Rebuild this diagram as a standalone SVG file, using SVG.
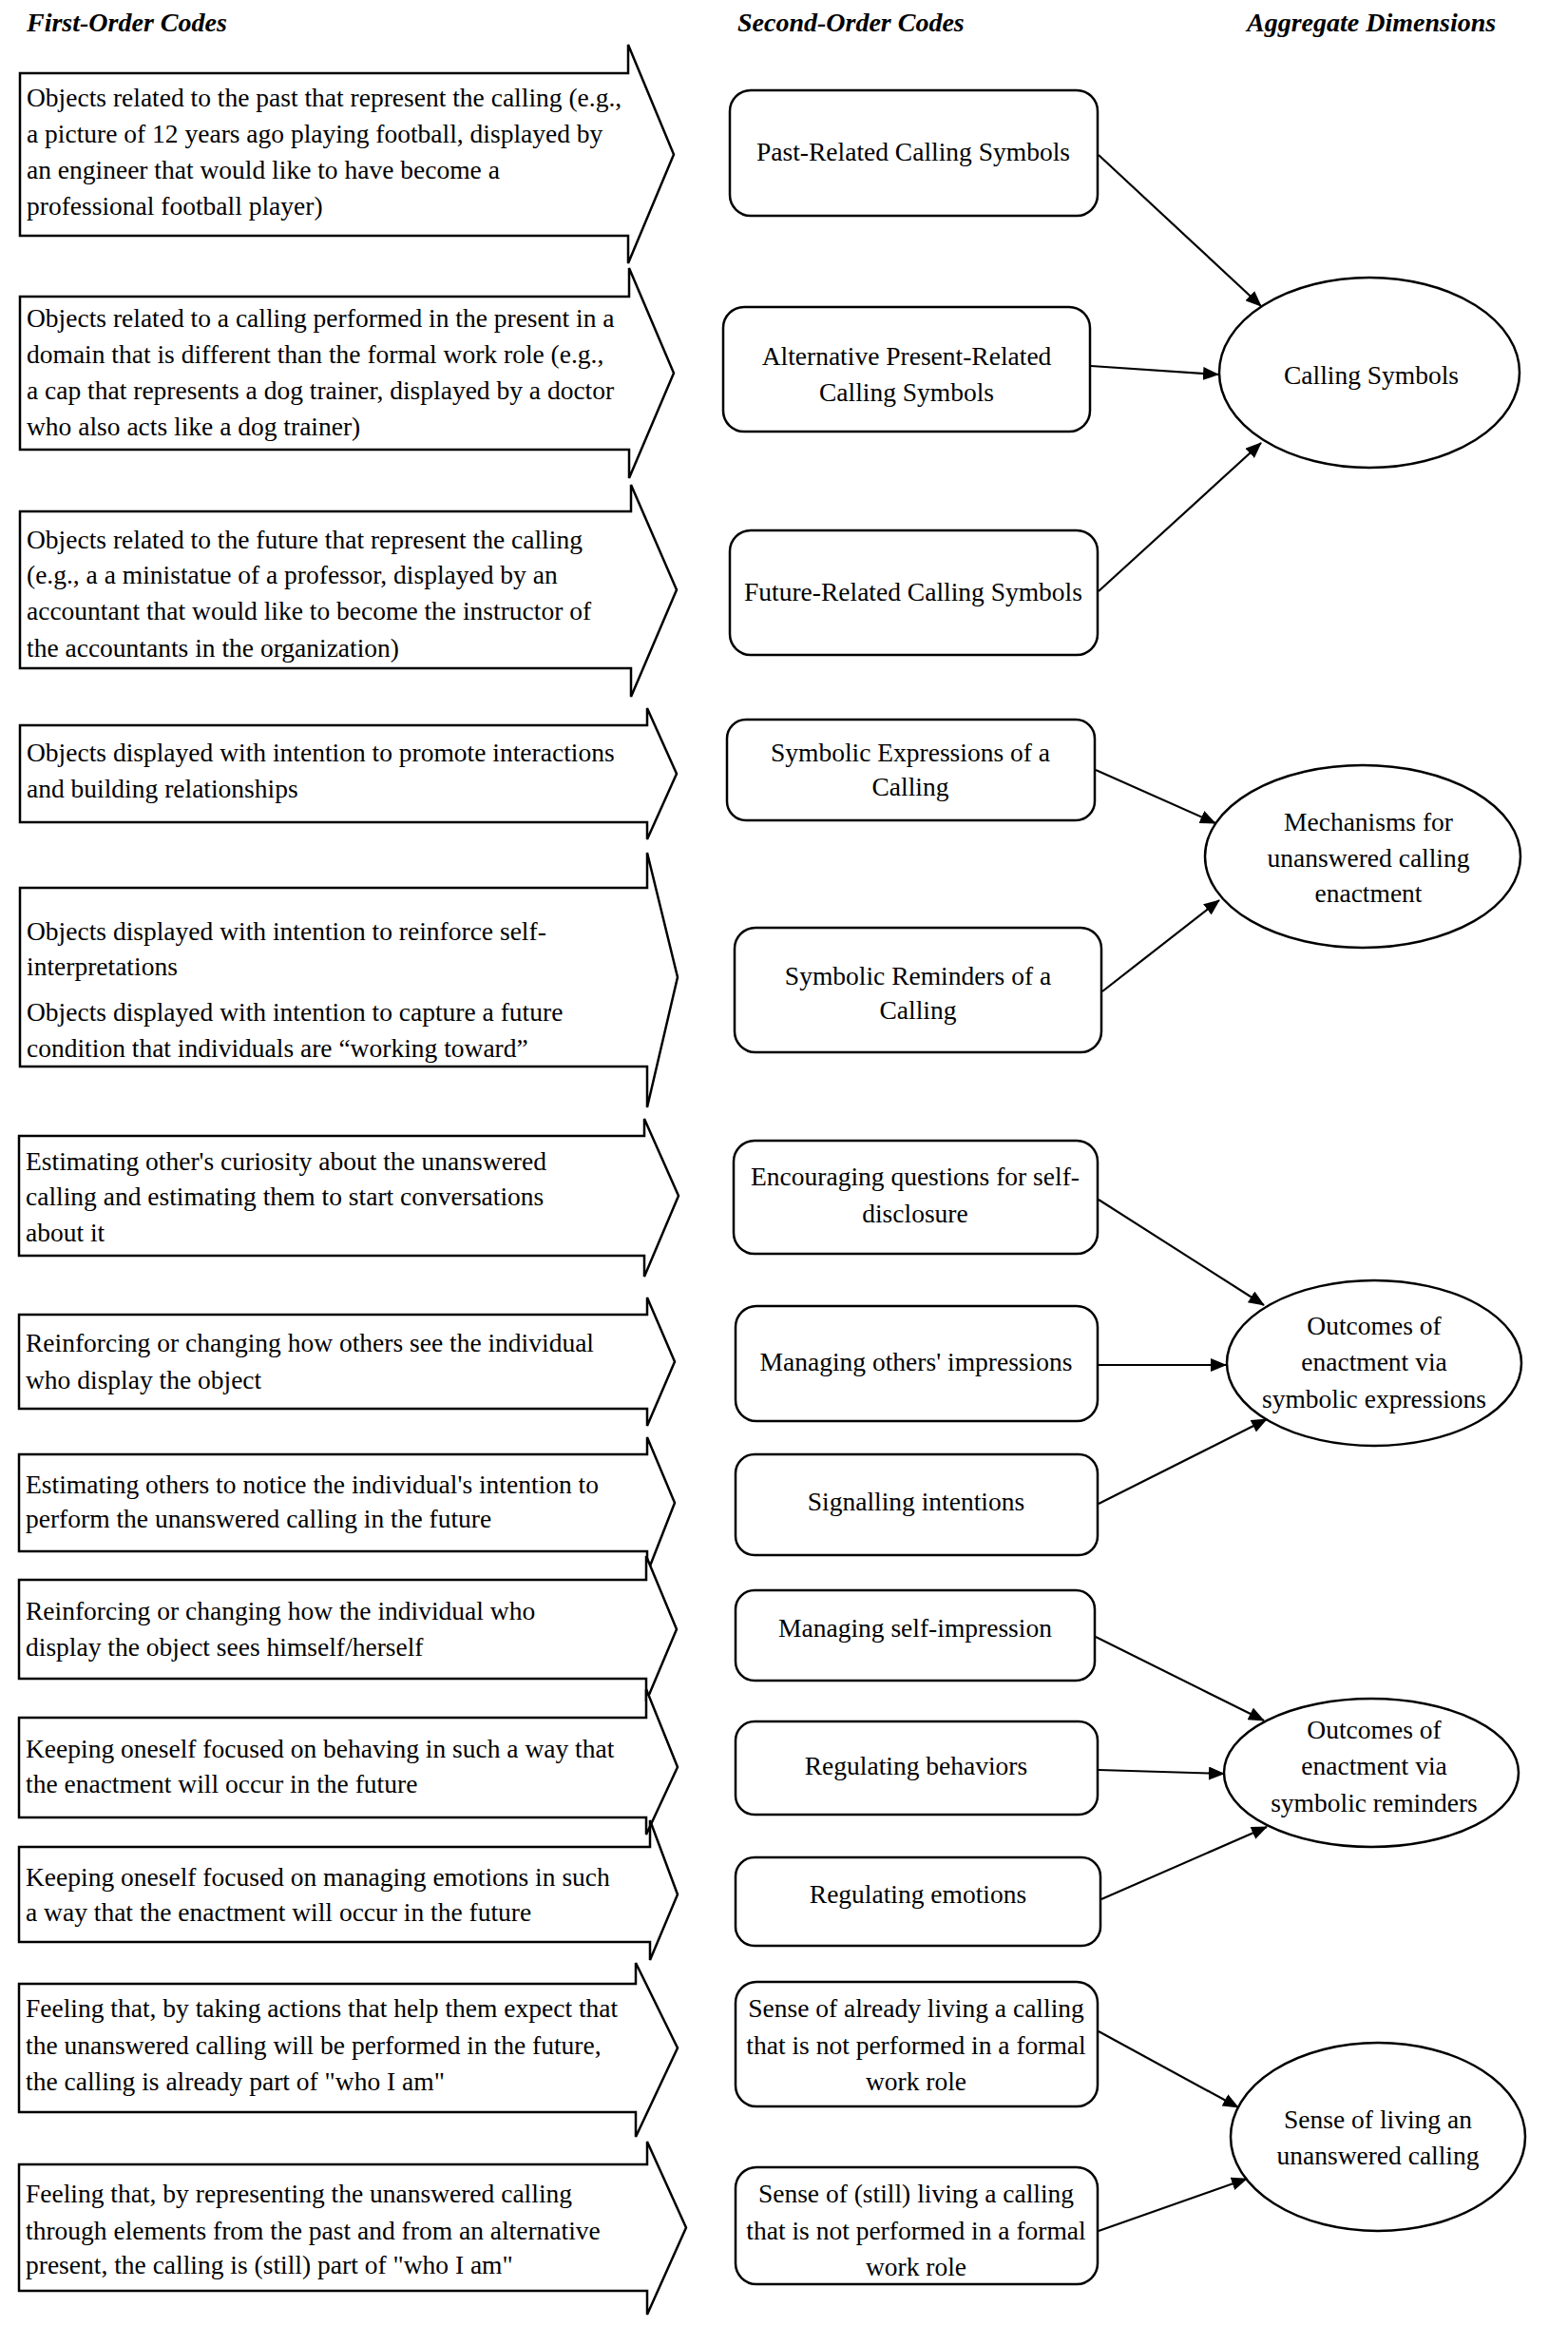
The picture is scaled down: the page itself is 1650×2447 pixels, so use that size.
<svg xmlns="http://www.w3.org/2000/svg" width="1650" height="2447" viewBox="0 0 1650 2447">
<defs>
<marker id="ah" markerUnits="userSpaceOnUse" markerWidth="18" markerHeight="14" refX="16" refY="7" orient="auto">
<path d="M0,0 L17,7 L0,14 Z" fill="#000"/>
</marker>
<style>
.t{font-family:"Liberation Serif","Times New Roman",serif;font-size:27.5px;fill:#000}
.h{font-family:"Liberation Serif","Times New Roman",serif;font-size:28px;font-weight:bold;font-style:italic;fill:#000}
.c{text-anchor:middle}
.ar{fill:#fff;stroke:#000;stroke-width:2.5;stroke-linejoin:miter}
.bx{fill:#fff;stroke:#000;stroke-width:2.5}
.el{fill:#fff;stroke:#000;stroke-width:2.5}
.cn{fill:none;stroke:#000;stroke-width:2.2;marker-end:url(#ah)}
</style>
</defs>
<rect width="1650" height="2447" fill="#fff"/>
<g id="headers">
<text class="h" x="28" y="33">First-Order Codes</text>
<text class="h" x="776" y="33">Second-Order Codes</text>
<text class="h" x="1312" y="33">Aggregate Dimensions</text>
</g>
<g id="first-order">
<g id="f1"><path class="ar" d="M21,77 H661 V47 L709,162.5 L661,277 V248 H21 Z"/>
<text class="t" x="28" y="112">Objects related to the past that represent the calling (e.g.,</text>
<text class="t" x="28" y="150">a picture of 12 years ago playing football, displayed by</text>
<text class="t" x="28" y="188">an engineer that would like to have become a</text>
<text class="t" x="28" y="226">professional football player)</text></g>
<g id="f2"><path class="ar" d="M21,312 H662 V282 L709,392.5 L662,503 V473 H21 Z"/>
<text class="t" x="28" y="344">Objects related to a calling performed in the present in a</text>
<text class="t" x="28" y="382">domain that is different than the formal work role (e.g.,</text>
<text class="t" x="28" y="420">a cap that represents a dog trainer, displayed by a doctor</text>
<text class="t" x="28" y="458">who also acts like a dog trainer)</text></g>
<g id="f3"><path class="ar" d="M21,538 H664 V510 L712,620.5 L664,733 V703 H21 Z"/>
<text class="t" x="28" y="577">Objects related to the future that represent the calling</text>
<text class="t" x="28" y="614">(e.g., a a ministatue of a professor, displayed by an</text>
<text class="t" x="28" y="652">accountant that would like to become the instructor of</text>
<text class="t" x="28" y="691">the accountants in the organization)</text></g>
<g id="f4"><path class="ar" d="M21,763 H681 V745 L712,814 L681,883 V865 H21 Z"/>
<text class="t" x="28" y="801">Objects displayed with intention to promote interactions</text>
<text class="t" x="28" y="839">and building relationships</text></g>
<g id="f5"><path class="ar" d="M21,934 H681 V897 L713,1028 L681,1165 V1122 H21 Z"/>
<text class="t" x="28" y="989">Objects displayed with intention to reinforce self-</text>
<text class="t" x="28" y="1026">interpretations</text>
<text class="t" x="28" y="1074">Objects displayed with intention to capture a future</text>
<text class="t" x="28" y="1112">condition that individuals are “working toward”</text></g>
<g id="f6"><path class="ar" d="M20,1195 H678 V1177 L714,1258 L678,1343 V1321 H20 Z"/>
<text class="t" x="27" y="1231">Estimating other's curiosity about the unanswered</text>
<text class="t" x="27" y="1268">calling and estimating them to start conversations</text>
<text class="t" x="27" y="1306">about it</text></g>
<g id="f7"><path class="ar" d="M20,1383 H681 V1365 L710,1432.5 L681,1500 V1482 H20 Z"/>
<text class="t" x="27" y="1422">Reinforcing or changing how others see the individual</text>
<text class="t" x="27" y="1461">who display the object</text></g>
<g id="f8"><path class="ar" d="M20,1530 H681 V1512 L710,1581 L681,1655 V1632 H20 Z"/>
<text class="t" x="27" y="1571">Estimating others to notice the individual's intention to</text>
<text class="t" x="27" y="1607">perform the unanswered calling in the future</text></g>
<g id="f9"><path class="ar" d="M20,1662 H680 V1637 L712,1714 L680,1790 V1766 H20 Z"/>
<text class="t" x="27" y="1704">Reinforcing or changing how the individual who</text>
<text class="t" x="27" y="1742">display the object sees himself/herself</text></g>
<g id="f10"><path class="ar" d="M20,1807 H680 V1777 L713,1859 L680,1930 V1912 H20 Z"/>
<text class="t" x="27" y="1849">Keeping oneself focused on behaving in such a way that</text>
<text class="t" x="27" y="1886">the enactment will occur in the future</text></g>
<g id="f11"><path class="ar" d="M20,1943 H684 V1915 L713,1993 L684,2062 V2043 H20 Z"/>
<text class="t" x="27" y="1984">Keeping oneself focused on managing emotions in such</text>
<text class="t" x="27" y="2021">a way that the enactment will occur in the future</text></g>
<g id="f12"><path class="ar" d="M20,2087 H669 V2065 L713,2154.5 L669,2248 V2222 H20 Z"/>
<text class="t" x="27" y="2122">Feeling that, by taking actions that help them expect that</text>
<text class="t" x="27" y="2161">the unanswered calling will be performed in the future,</text>
<text class="t" x="27" y="2199">the calling is already part of "who I am"</text></g>
<g id="f13"><path class="ar" d="M20,2277 H681 V2253 L722,2343.5 L681,2435 V2410 H20 Z"/>
<text class="t" x="27" y="2317">Feeling that, by representing the unanswered calling</text>
<text class="t" x="27" y="2356">through elements from the past and from an alternative</text>
<text class="t" x="27" y="2392">present, the calling is (still) part of "who I am"</text></g>
</g>
<g id="second-order">
<g id="s1"><rect class="bx" x="768" y="95" width="387" height="132" rx="22"/>
<text class="t c" x="961" y="169">Past-Related Calling Symbols</text></g>
<g id="s2"><rect class="bx" x="761" y="323" width="386" height="131" rx="22"/>
<text class="t c" x="954" y="384">Alternative Present-Related</text>
<text class="t c" x="954" y="422">Calling Symbols</text></g>
<g id="s3"><rect class="bx" x="768" y="558" width="387" height="131" rx="22"/>
<text class="t c" x="961" y="632">Future-Related Calling Symbols</text></g>
<g id="s4"><rect class="bx" x="765" y="757" width="387" height="106" rx="20"/>
<text class="t c" x="958" y="801">Symbolic Expressions of a</text>
<text class="t c" x="958" y="837">Calling</text></g>
<g id="s5"><rect class="bx" x="773" y="976" width="386" height="131" rx="22"/>
<text class="t c" x="966" y="1036">Symbolic Reminders of a</text>
<text class="t c" x="966" y="1072">Calling</text></g>
<g id="s6"><rect class="bx" x="772" y="1200" width="383" height="119" rx="22"/>
<text class="t c" x="963" y="1247">Encouraging questions for self-</text>
<text class="t c" x="963" y="1286">disclosure</text></g>
<g id="s7"><rect class="bx" x="774" y="1374" width="381" height="121" rx="22"/>
<text class="t c" x="964" y="1442">Managing others' impressions</text></g>
<g id="s8"><rect class="bx" x="774" y="1530" width="381" height="106" rx="20"/>
<text class="t c" x="964" y="1589">Signalling intentions</text></g>
<g id="s9"><rect class="bx" x="774" y="1673" width="378" height="95" rx="20"/>
<text class="t c" x="963" y="1722">Managing self-impression</text></g>
<g id="s10"><rect class="bx" x="774" y="1811" width="381" height="98" rx="20"/>
<text class="t c" x="964" y="1867">Regulating behaviors</text></g>
<g id="s11"><rect class="bx" x="774" y="1954" width="384" height="93" rx="20"/>
<text class="t c" x="966" y="2002">Regulating emotions</text></g>
<g id="s12"><rect class="bx" x="774" y="2085" width="381" height="131" rx="22"/>
<text class="t c" x="964" y="2122">Sense of already living a calling</text>
<text class="t c" x="964" y="2161">that is not performed in a formal</text>
<text class="t c" x="964" y="2199">work role</text></g>
<g id="s13"><rect class="bx" x="774" y="2280" width="381" height="123" rx="22"/>
<text class="t c" x="964" y="2317">Sense of (still) living a calling</text>
<text class="t c" x="964" y="2356">that is not performed in a formal</text>
<text class="t c" x="964" y="2394">work role</text></g>
</g>
<g id="aggregate">
<g id="a1"><ellipse class="el" cx="1441" cy="392" rx="158" ry="100"/>
<text class="t c" x="1443" y="404">Calling Symbols</text></g>
<g id="a2"><ellipse class="el" cx="1434" cy="901" rx="166" ry="96"/>
<text class="t c" x="1440" y="874">Mechanisms for</text>
<text class="t c" x="1440" y="912">unanswered calling</text>
<text class="t c" x="1440" y="949">enactment</text></g>
<g id="a3"><ellipse class="el" cx="1446" cy="1434" rx="155" ry="87"/>
<text class="t c" x="1446" y="1404">Outcomes of</text>
<text class="t c" x="1446" y="1442">enactment via</text>
<text class="t c" x="1446" y="1481">symbolic expressions</text></g>
<g id="a4"><ellipse class="el" cx="1443" cy="1865" rx="155" ry="78"/>
<text class="t c" x="1446" y="1829">Outcomes of</text>
<text class="t c" x="1446" y="1867">enactment via</text>
<text class="t c" x="1446" y="1906">symbolic reminders</text></g>
<g id="a5"><ellipse class="el" cx="1450" cy="2248" rx="155" ry="99"/>
<text class="t c" x="1450" y="2239">Sense of living an</text>
<text class="t c" x="1450" y="2277">unanswered calling</text></g>
</g>
<g id="connectors">
<line class="cn" x1="1156" y1="163" x2="1327" y2="322"/>
<line class="cn" x1="1148" y1="385" x2="1282" y2="394"/>
<line class="cn" x1="1156" y1="622" x2="1327" y2="466"/>
<line class="cn" x1="1153" y1="810" x2="1279" y2="866"/>
<line class="cn" x1="1160" y1="1043" x2="1283" y2="947"/>
<line class="cn" x1="1156" y1="1262" x2="1330" y2="1373"/>
<line class="cn" x1="1156" y1="1436" x2="1290" y2="1436"/>
<line class="cn" x1="1156" y1="1582" x2="1333" y2="1493"/>
<line class="cn" x1="1153" y1="1722" x2="1330" y2="1810"/>
<line class="cn" x1="1156" y1="1862" x2="1288" y2="1866"/>
<line class="cn" x1="1159" y1="1998" x2="1333" y2="1922"/>
<line class="cn" x1="1156" y1="2137" x2="1303" y2="2217"/>
<line class="cn" x1="1156" y1="2347" x2="1312" y2="2292"/>
</g>
</svg>
